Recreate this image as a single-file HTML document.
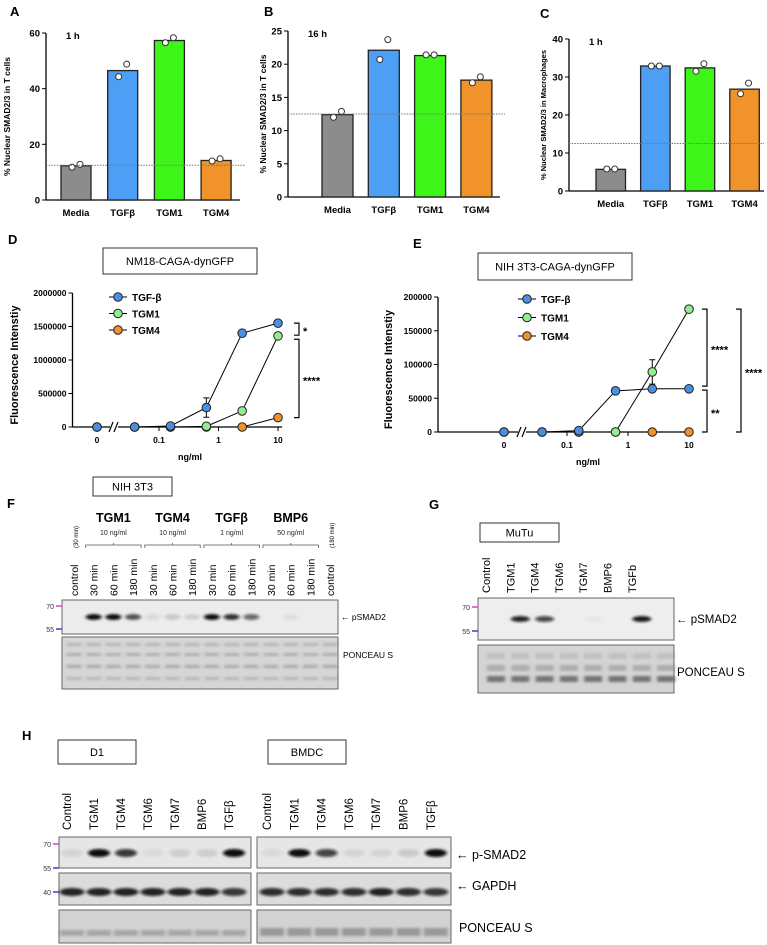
<!DOCTYPE html>
<html><head><meta charset="utf-8">
<style>
html,body{margin:0;padding:0;background:#fff;}
svg{display:block;}
text{font-family:"Liberation Sans",Arial,sans-serif;}
</style></head>
<body>
<svg id="fig" width="767" height="945" viewBox="0 0 767 945" xmlns="http://www.w3.org/2000/svg">
<defs>
<filter id="blur1" x="-50%" y="-100%" width="200%" height="300%"><feGaussianBlur stdDeviation="1.6 1.2"/></filter>
<filter id="blur2" x="-50%" y="-100%" width="200%" height="300%"><feGaussianBlur stdDeviation="2.5 2"/></filter>
</defs>
</svg>
<script>
// ---------- data ----------
const barCats = ["Media", "TGFβ", "TGM1", "TGM4"];
const aBars = [12.3, 46.5, 57.3, 14.2];
const aPtsLo = [11.8, 44.3, 56.5, 14.0];
const aPtsHi = [12.8, 48.8, 58.3, 14.8];
const aTicks = [0, 20, 40, 60];
const bBars = [12.4, 22.1, 21.3, 17.6];
const bPtsLo = [12.0, 20.7, 21.4, 17.2];
const bPtsHi = [12.9, 23.7, 21.4, 18.1];
const bTicks = [0, 5, 10, 15, 20, 25];
const cBars = [5.7, 32.9, 32.4, 26.8];
const cPtsLo = [5.8, 32.9, 31.5, 25.6];
const cPtsHi = [5.8, 32.9, 33.5, 28.4];
const cTicks = [0, 10, 20, 30, 40];
const baselineVal = 12.5;

const concs = [0, 0.039, 0.156, 0.625, 2.5, 10];
const xTickVals = [0, 0.1, 1, 10];
const xTickLabels = ["0", "0.1", "1", "10"];
const seriesNames = ["TGF-β", "TGM1", "TGM4"];
const dTGFb = [0, 0, 15000, 290000, 1400000, 1550000];
const dTGM1 = [0, 0, 0, 10000, 240000, 1360000];
const dTGM4 = [0, 0, 0, 0, 0, 140000];
const dErr = [0, 0, 0, 145000, 0, 0];
const dTicks = [0, 500000, 1000000, 1500000, 2000000];
const eTGFb = [0, 0, 2000, 61000, 64000, 64000];
const eTGM1 = [0, 0, 0, 0, 89000, 182000];
const eTGM4 = [0, 0, 0, 0, 0, 0];
const eErr = [0, 0, 0, 0, 18000, 0];
const eTicks = [0, 50000, 100000, 150000, 200000];

const fLanes = ["control", "30 min", "60 min", "180 min", "30 min", "60 min", "180 min", "30 min", "60 min", "180 min", "30 min", "60 min", "180 min", "control"];
const fBands = [0, 1, 1, 0.7, 0.08, 0.15, 0.12, 1, 0.85, 0.6, 0, 0.06, 0, 0];
const gLanes = ["Control", "TGM1", "TGM4", "TGM6", "TGM7", "BMP6", "TGFb"];
const gBands = [0, 0.9, 0.75, 0, 0.03, 0, 0.95, 0];
const hLanes = ["Control", "TGM1", "TGM4", "TGM6", "TGM7", "BMP6", "TGFβ"];
const hD1Bands = [0.08, 1, 0.8, 0.05, 0.1, 0.1, 1];
const hBMDCBands = [0.05, 1, 0.75, 0.08, 0.08, 0.12, 1];

// ---------- helpers ----------
const NS = "http://www.w3.org/2000/svg";
const svg = document.getElementById("fig");
function mk(tag, attrs, parent) {
  const e = document.createElementNS(NS, tag);
  for (const k in attrs) e.setAttribute(k, attrs[k]);
  (parent || svg).appendChild(e);
  return e;
}
function txt(x, y, s, size, opts, parent) {
  opts = opts || {};
  const t = mk("text", {x: x, y: y, "font-size": size, fill: opts.fill || "#000"}, parent);
  if (opts.bold) t.setAttribute("font-weight", "bold");
  if (opts.anchor) t.setAttribute("text-anchor", opts.anchor);
  if (opts.rot) t.setAttribute("transform", "rotate(" + opts.rot + " " + x + " " + y + ")");
  if (opts.family) t.setAttribute("font-family", opts.family);
  t.textContent = s;
  return t;
}

[["A",10,16],["B",264,16],["C",540,18],["D",8,244],["E",413,248],["F",7,508],["G",429,509],["H",22,740]].forEach(p => {
  const t = txt(p[1], p[2], p[0], 13, {bold: true});
  
  
});

// ---------- bar charts ----------
const barColors = ["#8c8c8c", "#4d9ef5", "#3ef51a", "#f0932b"];
function barChart(id, bars, lo, hi, ticks, g) {
  const grp = mk("g", {});
  
  
  const ymax = ticks[ticks.length - 1];
  const y = v => g.y0 - (v / ymax) * (g.y0 - g.y1);
  const ax = mk("line", {x1: g.ax, y1: g.y1, x2: g.ax, y2: g.y0, stroke: "#000", "stroke-width": 1.3}, grp);
  
  
  const bx = mk("line", {x1: g.ax, y1: g.y0, x2: g.xend, y2: g.y0, stroke: "#000", "stroke-width": 1.3}, grp);
  
  
  ticks.forEach(t => {
    mk("line", {x1: g.ax - 4, y1: y(t), x2: g.ax, y2: y(t), stroke: "#000", "stroke-width": 1}, grp);
    const tl = txt(g.ax - 6, y(t) + 3.5, String(t), 9.5, {bold: true, anchor: "end"}, grp);
    
    
  });
  bars.forEach((v, i) => {
    const x = g.bx0 + i * g.step;
    const r = mk("rect", {x: x, y: y(v), width: g.bw, height: g.y0 - y(v), fill: barColors[i], stroke: "#222", "stroke-width": 1.3}, grp);
    
    
    const cx = x + g.bw / 2;
    [[lo[i], -4], [hi[i], 4]].forEach(p => {
      const c = mk("circle", {cx: cx + p[1], cy: y(p[0]), r: 3, fill: "#fff", stroke: "#333", "stroke-width": 1}, grp);
      
      
    });
    const cl = txt(cx, g.y0 + 16, barCats[i], 9.5, {bold: true, anchor: "middle"}, grp);
    
    
  });
  const dl = mk("line", {x1: g.ax, y1: y(baselineVal), x2: g.dEnd, y2: y(baselineVal), stroke: "#777", "stroke-width": 1, "stroke-dasharray": "1.5,1.2"}, grp);
  
  
  const hl = txt(g.ax + 20, g.y1 + 6, g.time, 9.5, {bold: true}, grp);
  
  
  const yl = txt(g.ylx, (g.y0 + g.y1) / 2, g.ylabel, g.ylsize, {bold: true, anchor: "middle", rot: -90}, grp);
  
  
}
barChart("a", aBars, aPtsLo, aPtsHi, aTicks, {ax: 46, y0: 200, y1: 33, xend: 240, bx0: 61, step: 46.7, bw: 30, dEnd: 245, time: "1 h", ylx: 10, ylabel: "% Nuclear SMAD2/3 in T cells", ylsize: 8.5});
barChart("b", bBars, bPtsLo, bPtsHi, bTicks, {ax: 288, y0: 197, y1: 31, xend: 500, bx0: 322, step: 46.3, bw: 31, dEnd: 505, time: "16 h", ylx: 266, ylabel: "% Nuclear SMAD2/3 in T cells", ylsize: 8.5});
barChart("c", cBars, cPtsLo, cPtsHi, cTicks, {ax: 569, y0: 191, y1: 39, xend: 764, bx0: 596, step: 44.6, bw: 29.5, dEnd: 764, time: "1 h", ylx: 546, ylabel: "% Nuclear SMAD2/3 in Macrophages", ylsize: 7.5});

// ---------- line charts ----------
const lineColors = ["#4a90e2", "#90ee90", "#f0922b"];
function lineChart(id, series, errs, errSeries, ticks, g) {
  const grp = mk("g", {});
  
  
  const ymax = ticks[ticks.length - 1];
  const y = v => g.y0 - (v / ymax) * (g.y0 - g.y1);
  const x = c => c === 0 ? g.xZero : g.x10 + Math.log10(c / 10) * g.perDec;
  const box = mk("rect", {x: g.box[0], y: g.box[1], width: g.box[2], height: g.box[3], fill: "#fff", stroke: "#333", "stroke-width": 1}, grp);
  
  
  const bt = txt(g.box[0] + g.box[2] / 2, g.box[1] + g.box[3] / 2 + 4, g.title, 11, {anchor: "middle"}, grp);
  
  
  const ya = mk("line", {x1: g.ax, y1: g.y1, x2: g.ax, y2: g.y0, stroke: "#000", "stroke-width": 1.3}, grp);
  
  
  const xa = mk("line", {x1: g.ax, y1: g.y0, x2: g.x10 + 4, y2: g.y0, stroke: "#000", "stroke-width": 1.3}, grp);
  
  
  const brk = mk("rect", {x: g.brk - 4, y: g.y0 - 4, width: 8, height: 8, fill: "#fff"}, grp);
  
  
  [-3, 2].forEach(o => mk("line", {x1: g.brk + o - 2, y1: g.y0 + 5, x2: g.brk + o + 2, y2: g.y0 - 5, stroke: "#000", "stroke-width": 1.2}, grp));
  ticks.forEach(t => {
    mk("line", {x1: g.ax - 4, y1: y(t), x2: g.ax, y2: y(t), stroke: "#000", "stroke-width": 1}, grp);
    const tl = txt(g.ax - 6, y(t) + 3, String(t), 8.5, {bold: true, anchor: "end"}, grp);
    
    
  });
  xTickVals.forEach((t, i) => {
    mk("line", {x1: x(t), y1: g.y0, x2: x(t), y2: g.y0 + 4, stroke: "#000", "stroke-width": 1}, grp);
    const tl = txt(x(t), g.y0 + 16, xTickLabels[i], 8.5, {bold: true, anchor: "middle"}, grp);
    
    
  });
  const xl = txt(g.xlx, g.y0 + 33, "ng/ml", 9, {bold: true, anchor: "middle"}, grp);
  
  
  const yl = txt(g.ylx, (g.y0 + g.y1) / 2 + 5, "Fluorescence Intenstiy", 11, {bold: true, anchor: "middle", rot: -90}, grp);
  
  
  const es = series[errSeries];
  errs.forEach((e, i) => {
    if (!e) return;
    const xx = x(concs[i]);
    const eb = mk("path", {d: "M" + xx + "," + y(es[i] - e) + "V" + y(es[i] + e) + "M" + (xx - 3) + "," + y(es[i] + e) + "H" + (xx + 3) + "M" + (xx - 3) + "," + y(es[i] - e) + "H" + (xx + 3), stroke: "#000", "stroke-width": 1, fill: "none"}, grp);
    
    
  });
  [2, 1, 0].forEach(s => {
    const vals = series[s];
    let d = "";
    vals.forEach((v, i) => { if (i > 0) d += (i === 1 ? "M" : "L") + x(concs[i]) + "," + y(v); });
    const pl = mk("path", {d: d, stroke: "#000", "stroke-width": 1, fill: "none"}, grp);
    
    
    vals.forEach((v, i) => {
      const c = mk("circle", {cx: x(concs[i]), cy: y(v), r: 4.3, fill: lineColors[s], stroke: "#222", "stroke-width": 1}, grp);
      
      
    });
  });
  seriesNames.forEach((n, i) => {
    const ly = g.leg[1] + i * g.leg[2];
    const lg = mk("g", {}, grp);
    
    
    mk("line", {x1: g.leg[0] - 9, y1: ly, x2: g.leg[0] + 9, y2: ly, stroke: "#000", "stroke-width": 1}, lg);
    mk("circle", {cx: g.leg[0], cy: ly, r: 4.3, fill: lineColors[i], stroke: "#222", "stroke-width": 1}, lg);
    txt(g.leg[0] + 14, ly + 4, n, 10, {bold: true}, lg);
  });
  g.brackets.forEach(b => {
    const p = mk("path", {d: "M" + (b.x - 5) + "," + y(b.a) + "H" + b.x + "V" + y(b.b) + "H" + (b.x - 5), stroke: "#000", "stroke-width": 1.2, fill: "none"}, grp);
    
    
    const st = txt(b.x + 4, (y(b.a) + y(b.b)) / 2 + 6, b.label, 11, {bold: true}, grp);
    
    
  });
}
lineChart("d", [dTGFb, dTGM1, dTGM4], dErr, 0, dTicks, {
  ax: 72.5, y0: 427, y1: 293, xZero: 97, x10: 278, perDec: 59.5, brk: 114, box: [103, 248, 154, 26], title: "NM18-CAGA-dynGFP",
  xlx: 190, ylx: 18, leg: [118, 297, 16.5],
  brackets: [{x: 299, a: 1550000, b: 1370000, label: "*"}, {x: 299, a: 1310000, b: 140000, label: "****"}]
});
lineChart("e", [eTGFb, eTGM1, eTGM4], eErr, 1, eTicks, {
  ax: 438, y0: 432, y1: 297, xZero: 504, x10: 689, perDec: 61, brk: 522, box: [478, 253, 154, 27], title: "NIH 3T3-CAGA-dynGFP",
  xlx: 588, ylx: 392, leg: [527, 299, 18.5],
  brackets: [{x: 707, a: 182000, b: 68000, label: "****"}, {x: 707, a: 62000, b: 0, label: "**"}, {x: 741, a: 182000, b: 0, label: "****"}]
});

// ---------- blots ----------
function membrane(name, x, y, w, h, fill) {
  const r = mk("rect", {x: x, y: y, width: w, height: h, fill: fill, stroke: "#666", "stroke-width": 1});
  
  
  return r;
}
function bands(name, lanesX, vals, by, bw, bh, filt, dark) {
  const grp = mk("g", {filter: "url(#" + filt + ")"});
  
  
  vals.forEach((v, i) => {
    if (v <= 0) return;
    mk("ellipse", {cx: lanesX[i], cy: by, rx: bw / 2, ry: bh / 2, fill: dark || "#000", opacity: Math.min(1, v)}, grp);
  });
}
function ponceau(x, y, w, h, lanesX, bw, rows) {
  const grp = mk("g", {});
  
  
  lanesX.forEach(lx => {
    rows.forEach(r => mk("rect", {x: lx - bw / 2, y: y + r[0], width: bw, height: r[1], fill: "#555", opacity: r[2], filter: "url(#blur1)"}, grp));
  });
}
function marker(x, y, label, col) {
  const t = txt(x - 8, y + 3, label, 7, {anchor: "end", fill: "#333"});
  
  
  mk("line", {x1: x - 6, y1: y, x2: x, y2: y, stroke: col, "stroke-width": 1.5});
}
function labelBox(name, x, y, w, h, s) {
  const r = mk("rect", {x: x, y: y, width: w, height: h, fill: "#fff", stroke: "#333", "stroke-width": 1});
  
  
  const t = txt(x + w / 2, y + h / 2 + 4, s, 11, {anchor: "middle"});
  
  
}

// F
labelBox("nih3t3-box", 93, 477, 79, 19, "NIH 3T3");
const fX = fLanes.map((_, i) => 74 + i * 19.7);
fLanes.forEach((l, i) => {
  const t = txt(fX[i] + 4, 596, l, 10.5, {rot: -90, family: "DejaVu Sans, sans-serif"});
  
  
});
txt(fX[0] + 4, 548, "(30 min)", 6, {rot: -90, family: "DejaVu Sans, sans-serif"});
txt(fX[13] + 4, 548, "(180 min)", 6, {rot: -90, family: "DejaVu Sans, sans-serif"});
[["TGM1", "10 ng/ml"], ["TGM4", "10 ng/ml"], ["TGFβ", "1 ng/ml"], ["BMP6", "50 ng/ml"]].forEach((h, k) => {
  const cx = fX[1 + k * 3 + 1];
  const t = txt(cx, 522, h[0], 12.5, {bold: true, anchor: "middle", family: "DejaVu Sans, sans-serif"});
  
  
  txt(cx, 535, h[1], 7, {anchor: "middle", fill: "#222"});
  mk("path", {d: "M" + (fX[1 + k * 3] - 8) + ",548V545H" + (fX[3 + k * 3] + 8) + "V548M" + cx + ",545V543", stroke: "#555", "stroke-width": 0.8, fill: "none"});
});
membrane("psmad2-blot-f", 62, 600, 276, 34, "#ececec");
bands("psmad2-bands-f", fX, fBands, 617, 16, 6, "blur1", "#111");
membrane("ponceau-f", 62, 637, 276, 52, "#d6d6d6");
ponceau(62, 637, 276, 52, fX, 15, [[6, 3, 0.25], [16, 3, 0.3], [28, 3, 0.35], [40, 3, 0.25]]);
marker(62, 606, "70", "#e040c0");
marker(62, 629, "55", "#3040e0");
let tl = txt(341, 620, "← pSMAD2", 8.5, {});


tl = txt(343, 658, "PONCEAU S", 8.5, {});



// G
labelBox("mutu-box", 480, 523, 79, 19, "MuTu");
const gX = [0, 1, 2, 3, 4, 5, 6, 7].map(i => 496 + i * 24.3);
gLanes.forEach((l, i) => {
  const t = txt(gX[i] - 6, 593, l, 11, {rot: -90, family: "DejaVu Sans, sans-serif"});
  
  
});
membrane("psmad2-blot-g", 478, 598, 196, 42, "#eeeeee");
bands("psmad2-bands-g", gX, gBands, 619, 19, 6, "blur1", "#111");
membrane("ponceau-g", 478, 645, 196, 48, "#d4d4d4");
ponceau(478, 645, 196, 48, gX, 18, [[8, 6, 0.15], [20, 6, 0.3], [31, 6, 0.75]]);
marker(478, 607, "70", "#e040c0");
marker(478, 631, "55", "#3040e0");
tl = txt(676, 623, "← pSMAD2", 11.5, {});


tl = txt(677, 676, "PONCEAU S", 11.5, {});



// H
labelBox("d1-box", 58, 740, 78, 24, "D1");
labelBox("bmdc-box", 268, 740, 78, 24, "BMDC");
const hD1X = [0, 1, 2, 3, 4, 5, 6].map(i => 72 + i * 27);
const hBX = [0, 1, 2, 3, 4, 5, 6].map(i => 272 + i * 27.3);
[hD1X, hBX].forEach(xs => hLanes.forEach((l, i) => {
  const t = txt(xs[i] - 1, 830, l, 11.5, {rot: -90, family: "DejaVu Sans, sans-serif"});
  
  
}));
membrane("psmad2-blot-d1", 59, 837, 192, 31, "#e6e6e6");
membrane("psmad2-blot-bmdc", 257, 837, 194, 31, "#e6e6e6");
bands("psmad2-bands-d1", hD1X, hD1Bands, 853, 22, 8, "blur1", "#111");
bands("psmad2-bands-bmdc", hBX, hBMDCBands, 853, 22, 8, "blur1", "#111");
membrane("gapdh-blot-d1", 59, 873, 192, 32, "#dcdcdc");
membrane("gapdh-blot-bmdc", 257, 873, 194, 32, "#dcdcdc");
bands("gapdh-bands-d1", hD1X, [0.9, 0.9, 0.9, 0.9, 0.9, 0.9, 0.8], 892, 25, 8, "blur1", "#111");
bands("gapdh-bands-bmdc", hBX, [0.85, 0.85, 0.85, 0.85, 0.9, 0.85, 0.8], 892, 25, 8, "blur1", "#111");
membrane("ponceau-d1", 59, 910, 192, 33, "#d2d2d2");
membrane("ponceau-bmdc", 257, 910, 194, 33, "#d2d2d2");
ponceau(59, 910, 192, 33, hD1X, 24, [[20, 6, 0.35]]);
ponceau(257, 910, 194, 33, hBX, 24, [[18, 8, 0.45]]);
marker(59, 844, "70", "#e040c0");
marker(59, 868, "55", "#3040e0");
marker(59, 892, "40", "#3040e0");
tl = txt(456, 859, "← p-SMAD2", 12.5, {});


tl = txt(456, 890, "← GAPDH", 12.5, {});


tl = txt(459, 932, "PONCEAU S", 12.5, {});


</script>
</body></html>
